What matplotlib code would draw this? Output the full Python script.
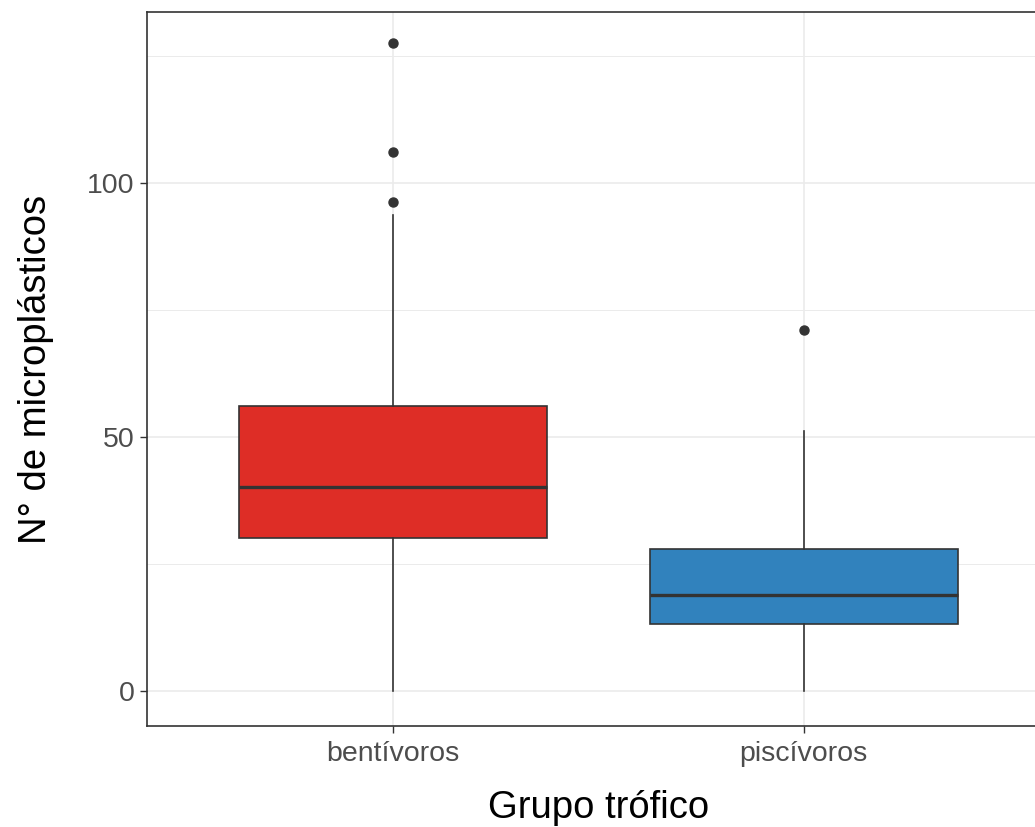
import matplotlib
matplotlib.use('Agg')
import matplotlib.pyplot as plt

plt.rcParams['font.family'] = ['Liberation Sans', 'DejaVu Sans']

# values
groups = ['bentívoros', 'piscívoros']
q1 = [30.1, 13.2]
medians = [40.2, 18.9]
q3 = [56.1, 28.0]
whisk_lo = [0.0, 0.0]
whisk_hi = [93.7, 51.2]
outliers = [[96.3, 106.1, 127.6], [71.1]]
colors = ['#DE2D26', '#3182BD']

fig = plt.figure(figsize=(10.35, 8.27), dpi=100)
ax = fig.add_axes([147 / 1035, 1 - 726 / 827, (1050 - 147) / 1035, (726 - 12) / 827])

stats = []
for i, g in enumerate(groups):
    stats.append(dict(label=g, q1=q1[i], med=medians[i], q3=q3[i],
                      whislo=whisk_lo[i], whishi=whisk_hi[i], fliers=outliers[i]))

pos = [1, 2]
bp = ax.bxp(stats, positions=pos, widths=0.75, patch_artist=True, showcaps=False,
            boxprops=dict(edgecolor='#333333', linewidth=1.2),
            medianprops=dict(color='#333333', linewidth=2.4),
            whiskerprops=dict(color='#333333', linewidth=1.2),
            flierprops=dict(marker='o', markerfacecolor='#333333', markeredgecolor='#333333',
                            markersize=6.5))
for patch, c in zip(bp['boxes'], colors):
    patch.set_facecolor(c)
    patch.set_zorder(3)
for k in ['whiskers', 'medians', 'fliers']:
    for a in bp[k]:
        a.set_zorder(4)

ax.set_xlim(0.4, 2.6)
ax.set_ylim(-6.9, 133.7)
ax.set_yticks([0, 50, 100])
ax.set_yticks([25, 75, 125], minor=True)
ax.set_xticks(pos)
ax.set_xticklabels(groups)
ax.grid(True, which='major', color='#EBEBEB', linewidth=1.2, zorder=0)
ax.grid(True, which='minor', axis='y', color='#EBEBEB', linewidth=0.7, zorder=0)
ax.set_axisbelow(True)
ax.tick_params(axis='both', which='major', colors='#333333', labelcolor='#4D4D4D',
               labelsize=20.5, length=5, width=1, pad=4)
ax.tick_params(axis='x', which='major', pad=6)
ax.tick_params(axis='y', which='minor', length=0)
for s in ax.spines.values():
    s.set_color('#333333')
    s.set_linewidth(1.2)

ax.set_xlabel('Grupo trófico', fontsize=27.5, labelpad=16)
ax.set_ylabel('N° de microplásticos', fontsize=27.5, labelpad=24)

fig.savefig('out.png', dpi=100)
